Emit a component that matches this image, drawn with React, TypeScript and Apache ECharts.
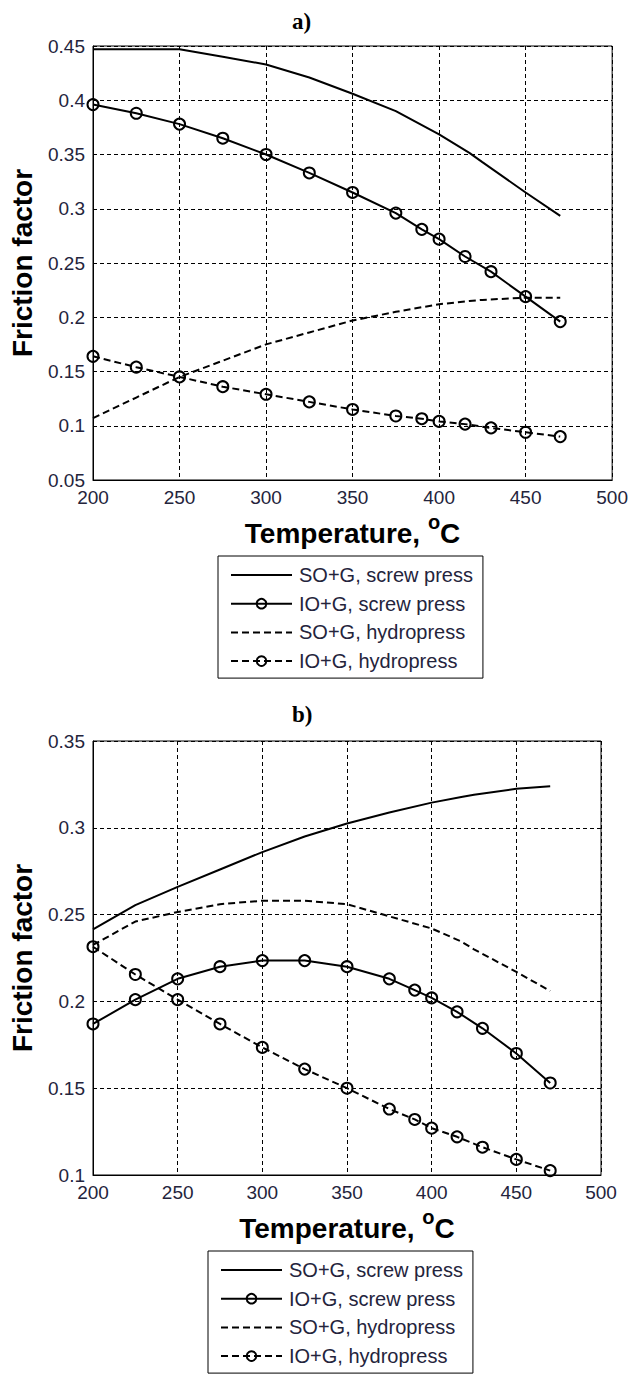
import React, { useEffect, useRef } from "react";
import * as echarts from "echarts";

// ---------- data ----------
const SERIES_NAMES = [
  "SO+G, screw press",
  "IO+G, screw press",
  "SO+G, hydropress",
  "IO+G, hydropress",
];

// temperatures (°C)
const T_LINE = [200, 225, 250, 275, 300, 325, 350, 375, 400, 417.5, 425, 450, 470];
const T_MARK = [200, 225, 250, 275, 300, 325, 350, 375, 390, 400, 415, 430, 450, 470];

// panel a)
const A_SO_SCREW = [0.447, 0.447, 0.447, 0.440, 0.433, 0.421, 0.406, 0.390, 0.3685, 0.3515, 0.343, 0.315, 0.2935];
const A_IO_SCREW = [0.396, 0.388, 0.378, 0.365, 0.350, 0.333, 0.315, 0.296, 0.281, 0.272, 0.256, 0.242, 0.219, 0.196];
const A_SO_HYDRO = [0.107, 0.126, 0.145, 0.160, 0.175, 0.186, 0.197, 0.205, 0.212, 0.215, 0.216, 0.218, 0.218];
const A_IO_HYDRO = [0.164, 0.154, 0.145, 0.136, 0.129, 0.122, 0.115, 0.109, 0.1065, 0.104, 0.1015, 0.098, 0.094, 0.090];

// panel b)
const B_SO_SCREW = [0.2415, 0.2555, 0.266, 0.276, 0.286, 0.295, 0.3025, 0.3088, 0.3145, 0.3178, 0.319, 0.3225, 0.324];
const B_IO_SCREW = [0.187, 0.201, 0.213, 0.220, 0.2235, 0.2235, 0.220, 0.213, 0.2065, 0.202, 0.194, 0.1845, 0.170, 0.153];
const B_SO_HYDRO = [0.2325, 0.246, 0.2515, 0.256, 0.258, 0.258, 0.256, 0.249, 0.242, 0.2345, 0.230, 0.217, 0.206];
const B_IO_HYDRO = [0.2315, 0.2155, 0.201, 0.187, 0.1735, 0.161, 0.150, 0.138, 0.132, 0.127, 0.122, 0.116, 0.109, 0.1025];

// axes
const X_MIN = 200;
const X_MAX = 500;
const X_STEP = 50;
const A_Y = { min: 0.05, max: 0.45, step: 0.05 };
const B_Y = { min: 0.1, max: 0.35, step: 0.05 };

const SANS = "'Liberation Sans', Arial, sans-serif";
const SERIF = "'Liberation Serif', 'Times New Roman', serif";
const LABEL_COLOR = "#24243c";

function pairs(xs: number[], ys: number[]) {
  return xs.map((x, i) => [x, ys[i]]);
}

type Panel = {
  title: string;
  grid: { left: number; top: number; width: number; height: number };
  y: { min: number; max: number; step: number };
  soScrew: number[];
  ioScrew: number[];
  soHydro: number[];
  ioHydro: number[];
  xNameGap: number;
  yNameGap: number;
  legend: { left: number; top: number };
  titleTop: number;
};

function buildOption(p: Panel) {
  const plain = (name: string, data: number[], dashed: boolean) => ({
    name,
    type: "line",
    data: pairs(T_LINE, data),
    symbol: "none",
    showSymbol: false,
    lineStyle: { color: "#000", width: 2, type: dashed ? [7, 4] : "solid" },
    itemStyle: { color: "transparent", borderColor: "transparent", borderWidth: 0 },
    z: 3,
  });
  const marked = (name: string, data: number[], dashed: boolean) => ({
    name,
    type: "line",
    data: pairs(T_MARK, data),
    symbol: "circle",
    symbolSize: 11,
    showSymbol: true,
    lineStyle: { color: "#000", width: 2, type: dashed ? [7, 4] : "solid" },
    itemStyle: { color: "transparent", borderColor: "#000", borderWidth: 2 },
    z: 4,
  });

  return {
    animation: false,
    backgroundColor: "#fff",
    title: {
      text: p.title,
      left: 287,
      top: p.titleTop,
      textStyle: { fontFamily: SERIF, fontWeight: "bold", fontSize: 23, color: "#000" },
    },
    grid: { ...p.grid, show: true, borderColor: "#000", borderWidth: 1, backgroundColor: "#fff" },
    legend: {
      orient: "vertical",
      left: p.legend.left,
      top: p.legend.top,
      data: SERIES_NAMES,
      itemWidth: 61,
      itemHeight: 12,
      itemGap: 8.7,
      padding: [9, 10, 7, 12],
      borderColor: "#000",
      borderWidth: 1,
      backgroundColor: "#fff",
      selectedMode: false,
      textStyle: {
        fontFamily: SANS,
        fontSize: 20,
        lineHeight: 20,
        color: LABEL_COLOR,
        padding: [0, 0, 0, 2],
      },
    },
    xAxis: {
      type: "value",
      min: X_MIN,
      max: X_MAX,
      interval: X_STEP,
      name: "{t|Temperature, }{sup|o}{t|C}",
      nameLocation: "middle",
      nameGap: p.xNameGap,
      nameTextStyle: {
        rich: {
          t: { fontFamily: SANS, fontWeight: "bold", fontSize: 28, lineHeight: 28, color: "#000", verticalAlign: "bottom" },
          sup: {
            fontFamily: SANS,
            fontWeight: "bold",
            fontSize: 20,
            lineHeight: 20,
            color: "#000",
            padding: [0, 0, 16, 0],
            verticalAlign: "bottom",
          },
        },
      },
      axisLine: { show: true, lineStyle: { color: "#000", width: 1 } },
      axisTick: { show: false },
      axisLabel: { fontFamily: SANS, fontSize: 19, color: LABEL_COLOR, margin: 8 },
      splitLine: { show: true, lineStyle: { color: "#000", width: 1, type: [4, 3] } },
    },
    yAxis: {
      type: "value",
      min: p.y.min,
      max: p.y.max,
      interval: p.y.step,
      name: "Friction factor",
      nameLocation: "middle",
      nameGap: p.yNameGap,
      nameTextStyle: { fontFamily: SANS, fontWeight: "bold", fontSize: 28, color: "#000" },
      axisLine: { show: true, lineStyle: { color: "#000", width: 1 } },
      axisTick: { show: false },
      axisLabel: { fontFamily: SANS, fontSize: 19, color: LABEL_COLOR, margin: 8 },
      splitLine: { show: true, lineStyle: { color: "#000", width: 1, type: [4, 3] } },
    },
    series: [
      plain(SERIES_NAMES[0], p.soScrew, false),
      marked(SERIES_NAMES[1], p.ioScrew, false),
      plain(SERIES_NAMES[2], p.soHydro, true),
      marked(SERIES_NAMES[3], p.ioHydro, true),
    ],
  };
}

const PANEL_A: Panel = {
  title: "a)",
  titleTop: 5,
  grid: { left: 93, top: 46, width: 520, height: 434 },
  y: A_Y,
  soScrew: A_SO_SCREW,
  ioScrew: A_IO_SCREW,
  soHydro: A_SO_HYDRO,
  ioHydro: A_IO_HYDRO,
  xNameGap: 34,
  yNameGap: 57,
  legend: { left: 218, top: 556 },
};

const PANEL_B: Panel = {
  title: "b)",
  titleTop: 8,
  grid: { left: 83, top: 51, width: 518, height: 434 },
  y: B_Y,
  soScrew: B_SO_SCREW,
  ioScrew: B_IO_SCREW,
  soHydro: B_SO_HYDRO,
  ioHydro: B_IO_HYDRO,
  xNameGap: 36,
  yNameGap: 57,
  legend: { left: 208, top: 561 },
};

function ChartPanel({ panel, top, height }: { panel: Panel; top: number; height: number }) {
  const ref = useRef<HTMLDivElement>(null);
  useEffect(() => {
    if (!ref.current) return;
    const chart = echarts.init(ref.current, undefined, { renderer: "svg" });
    chart.setOption(buildOption(panel) as any);
    return () => chart.dispose();
  }, [panel]);
  return (
    <div
      ref={ref}
      style={{ position: "absolute", left: 0, top, width: 631, height }}
    />
  );
}

export default function App() {
  return (
    <div
      style={{
        position: "absolute",
        left: 0,
        top: 0,
        width: 631,
        height: 1374,
        background: "#fff",
        overflow: "hidden",
      }}
    >
      <ChartPanel panel={PANEL_A} top={0} height={690} />
      <ChartPanel panel={PANEL_B} top={690} height={684} />
    </div>
  );
}
